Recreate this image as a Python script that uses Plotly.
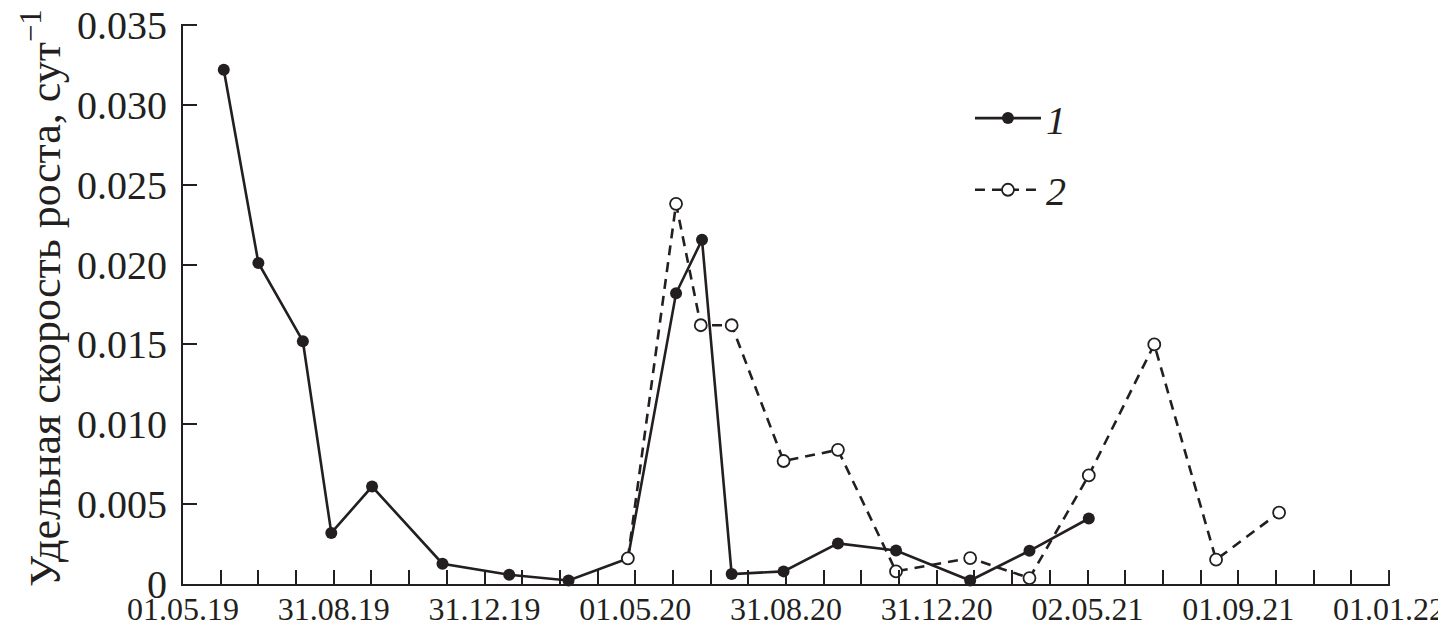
import plotly.graph_objects as go

# ---- data ----
dates1 = ["2019-06-03", "2019-07-01", "2019-08-06", "2019-08-29", "2019-10-01",
          "2019-11-27", "2020-01-20", "2020-03-08", "2020-04-25", "2020-06-03",
          "2020-06-24", "2020-07-18", "2020-08-29", "2020-10-12", "2020-11-28",
          "2021-01-27", "2021-03-16", "2021-05-03"]
vals1 = [0.0322, 0.0201, 0.0152, 0.0032, 0.0061,
         0.00127, 0.00058, 0.00022, 0.0016, 0.0182,
         0.02155, 0.00062, 0.00079, 0.00254, 0.0021,
         0.00022, 0.00208, 0.0041]

dates2 = ["2020-04-25", "2020-06-03", "2020-06-23", "2020-07-18", "2020-08-29",
          "2020-10-12", "2020-11-28", "2021-01-27", "2021-03-16", "2021-05-03",
          "2021-06-25", "2021-08-14", "2021-10-04"]
vals2 = [0.0016, 0.0238, 0.0162, 0.0162, 0.0077,
         0.0084, 0.00079, 0.00162, 0.00037, 0.0068,
         0.0150, 0.00152, 0.00447]

x_tickvals = ["2019-05-01", "2019-08-31", "2019-12-31", "2020-05-01", "2020-08-31",
              "2020-12-31", "2021-05-02", "2021-09-01", "2022-01-01"]
x_ticktext = ["01.05.19", "31.08.19", "31.12.19", "01.05.20", "31.08.20",
              "31.12.20", "02.05.21", "01.09.21", "01.01.22"]
y_tickvals = [0, 0.005, 0.010, 0.015, 0.020, 0.025, 0.030, 0.035]
y_ticktext = ["0", "0.005", "0.010", "0.015", "0.020", "0.025", "0.030", "0.035"]

series_names = ["<i>1</i>", "<i>2</i>"]
y_title = "Удельная скорость роста, сут<sup>−1</sup>"

INK = "#231f20"
FONT = "Liberation Serif"

fig = go.Figure()
fig.add_trace(go.Scatter(
    x=dates1, y=vals1, mode="lines+markers", name=series_names[0],
    line=dict(color=INK, width=2.6),
    marker=dict(symbol="circle", size=12, color=INK, line=dict(width=0)),
    cliponaxis=False, legend="legend",
))
fig.add_trace(go.Scatter(
    x=dates2, y=vals2, mode="lines+markers", name=series_names[1],
    line=dict(color=INK, width=2.6, dash="10px,7px"),
    marker=dict(symbol="circle", size=12, color="white", line=dict(color=INK, width=1.8)),
    cliponaxis=False, legend="legend2",
))

# end-of-axis tick marks (plotly omits ticks that sit exactly on the axis ends)
end_ticks = [
    dict(type="line", xref="x", yref="paper", x0=x_tickvals[-1], x1=x_tickvals[-1],
         y0=0, y1=14 / 560, line=dict(color=INK, width=2)),
    dict(type="line", xref="paper", yref="y", x0=0, x1=14 / 1207,
         y0=y_tickvals[-1], y1=y_tickvals[-1], line=dict(color=INK, width=2)),
]

fig.update_layout(
    template="none",
    width=1438, height=633,
    margin=dict(l=175, r=56, t=16, b=57),
    paper_bgcolor="white", plot_bgcolor="white",
    font=dict(family=FONT, color=INK),
    showlegend=True,
    legend=dict(x=0.652, y=0.832, xanchor="left", yanchor="middle",
                bgcolor="rgba(0,0,0,0)", font=dict(size=40, family=FONT, color=INK),
                itemwidth=66),
    legend2=dict(x=0.652, y=0.704, xanchor="left", yanchor="middle",
                 bgcolor="rgba(0,0,0,0)", font=dict(size=40, family=FONT, color=INK),
                 itemwidth=66),
    annotations=[dict(
        text=y_title, textangle=-90, xref="paper", yref="paper",
        x=-0.1167, y=0.511, xanchor="center", yanchor="middle", showarrow=False,
        font=dict(size=44, family=FONT, color=INK),
    )],
    shapes=end_ticks,
)

fig.update_xaxes(
    type="date", range=["2019-05-01", "2022-01-01 18:00"],
    tickmode="array", tickvals=x_tickvals, ticktext=x_ticktext,
    ticks="inside", ticklen=14, tickwidth=2, tickcolor=INK,
    minor=dict(ticks="inside", ticklen=14, tickwidth=2, tickcolor=INK,
               tick0="2019-05-01", dtick=30.5 * 86400000, showgrid=False),
    showline=True, linewidth=2, linecolor=INK, showgrid=False, zeroline=False,
    tickfont=dict(size=32, family=FONT, color=INK),
    ticklabelstandoff=-4, ticklabeloverflow="allow",
)
fig.update_yaxes(
    range=[0, 0.03506],
    tickmode="array", tickvals=y_tickvals, ticktext=y_ticktext,
    ticks="inside", ticklen=14, tickwidth=2, tickcolor=INK,
    showline=True, linewidth=2, linecolor=INK, showgrid=False, zeroline=False,
    tickfont=dict(size=40, family=FONT, color=INK),
    ticklabelstandoff=6, ticklabeloverflow="allow",
)

fig.write_html("out.html")
